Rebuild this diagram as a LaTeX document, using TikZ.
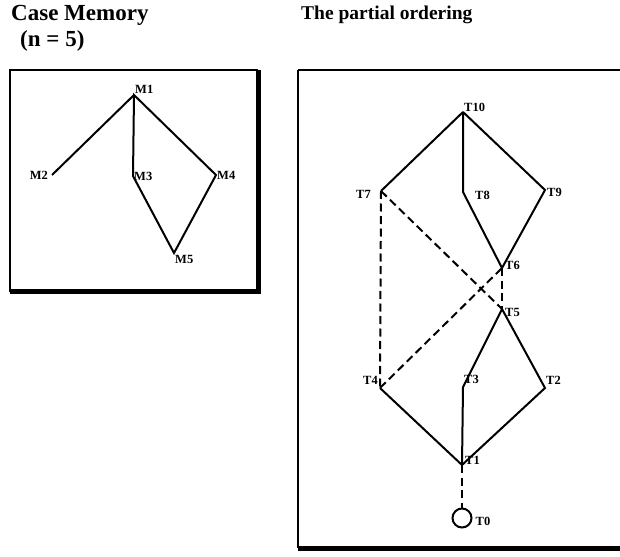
\documentclass[tikz,border=0pt]{standalone}
\usepackage{fontspec}
\setmainfont{Liberation Serif}
\begin{document}
\begin{tikzpicture}[x=1pt,y=-1pt,
  edge/.style={line width=2pt},
  dedge/.style={line width=2pt,dash pattern=on 8pt off 4.5pt},
  lab/.style={font=\fontsize{12.5}{12.5}\selectfont\bfseries,inner sep=0pt},
  head/.style={font=\fontsize{23}{24}\selectfont\bfseries,inner sep=0pt,anchor=base west},
  headb/.style={font=\fontsize{19.5}{22}\selectfont\bfseries,inner sep=0pt,anchor=base west},
  frame/.style={line width=1.8pt},
  shadow/.style={line width=5pt}]
\useasboundingbox (0,0) rectangle (620,556);
\clip (0,0) rectangle (620,556);
% headings
\node[head] (h1) at (11,21) {Case Memory};
\node[head] (h2) at (20,47) {(n = 5)};
\node[headb] (h3) at (301,20) {The partial ordering};
% left frame
\draw[frame] (10,70) rectangle (257,291);
\draw[shadow] (10,291) -- (258,291) -- (258,70);
% right frame
\draw[frame] (298,70) -- (630,70);
\draw[frame] (298,70) -- (298,548);
\draw[shadow] (298,548) -- (630,548);
% case memory
\coordinate (M1) at (134,95);
\coordinate (M2) at (52,175);
\coordinate (M3) at (133,176);
\coordinate (M4) at (216,175);
\coordinate (M5) at (174,253);
\draw[edge] (M1) -- (M2);
\draw[edge] (M1) -- (M3) -- (M5) -- (M4) -- cycle;
\node[lab,anchor=south west] (lM1) at ([xshift=1pt,yshift=1pt]M1) {M1};
\node[lab,anchor=east] (lM2) at ([xshift=-4pt]M2) {M2};
\node[lab,anchor=west] (lM3) at ([xshift=1pt]M3) {M3};
\node[lab,anchor=west] (lM4) at ([xshift=1pt]M4) {M4};
\node[lab,anchor=north west] (lM5) at ([xshift=1pt,yshift=-2pt]M5) {M5};
% partial ordering
\coordinate (T10) at (463,112);
\coordinate (T7) at (381,191);
\coordinate (T8) at (463,192);
\coordinate (T9) at (545,190);
\coordinate (T6) at (502,268);
\coordinate (T5) at (502,309);
\coordinate (T4) at (380,388);
\coordinate (T3) at (463,387);
\coordinate (T2) at (545,388);
\coordinate (T1) at (462,465);
\node[circle,draw,line width=2pt,minimum size=19pt,inner sep=0pt] (T0) at (462,518) {};
\draw[edge] (T10) -- (T7);
\draw[edge] (T10) -- (T8) -- (T6);
\draw[edge] (T10) -- (T9) -- (T6);
\draw[edge] (T5) -- (T3) -- (T1);
\draw[edge] (T5) -- (T2) -- (T1);
\draw[edge] (T4) -- (T1);
\draw[dedge] (T7) -- (T4);
\draw[dedge] (T7) -- (T5);
\draw[dedge] (T4) -- (T6);
\draw[dedge] (T6) -- (T5);
\draw[dedge] (T1) -- (T0);
\node[lab,anchor=south west] (lT10) at ([xshift=1pt,yshift=0pt]T10) {T10};
\node[lab,anchor=east] (lT7) at ([xshift=-10pt,yshift=-3pt]T7) {T7};
\node[lab,anchor=west] (lT8) at ([xshift=12pt,yshift=-3pt]T8) {T8};
\node[lab,anchor=west] (lT9) at ([xshift=2pt,yshift=-2pt]T9) {T9};
\node[lab,anchor=west] (lT6) at ([xshift=3pt,yshift=3pt]T6) {T6};
\node[lab,anchor=west] (lT5) at ([xshift=3pt,yshift=-3pt]T5) {T5};
\node[lab,anchor=east] (lT4) at ([xshift=-2pt,yshift=8pt]T4) {T4};
\node[lab,anchor=west] (lT3) at ([xshift=1pt,yshift=8pt]T3) {T3};
\node[lab,anchor=west] (lT2) at ([xshift=1pt,yshift=8pt]T2) {T2};
\node[lab,anchor=west] (lT1) at ([xshift=3pt,yshift=5pt]T1) {T1};
\node[lab,anchor=west] (lT0) at ([xshift=3pt,yshift=-3pt]T0.east) {T0};
\end{tikzpicture}
\end{document}
